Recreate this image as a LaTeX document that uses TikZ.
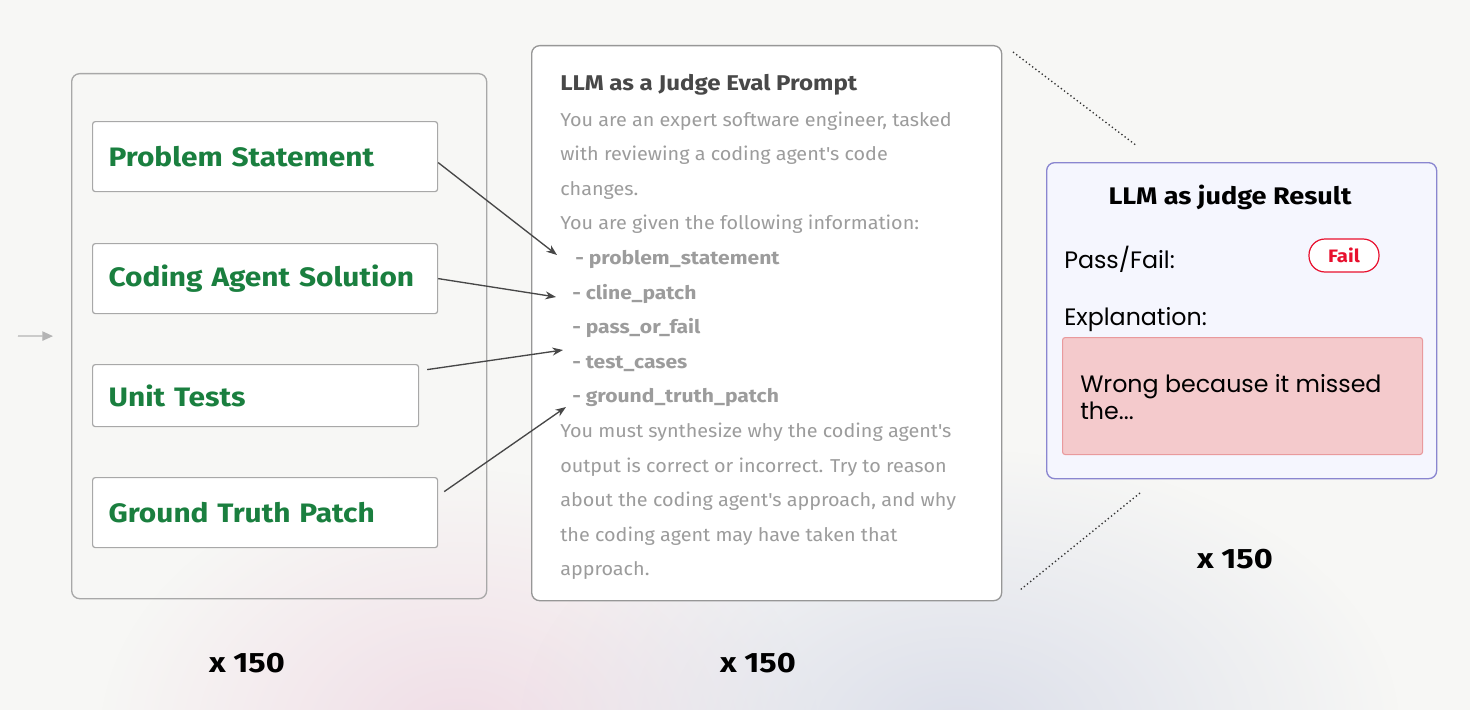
\documentclass[tikz,border=0pt]{standalone}
\usepackage{fontspec}
\setmainfont[FakeStretch=1.06]{Fira Sans}
\newfontfamily\wideface[FakeStretch=1.13]{Fira Sans}
\newfontfamily\labelface[FakeStretch=1.12]{Fira Sans}
\newfontfamily\countface[FakeStretch=1.16]{Fira Sans}
\newfontfamily\geofont{Poppins}
\usepackage{xcolor}
\definecolor{cBg}{HTML}{F7F7F5}
\definecolor{cPink}{HTML}{F0DDE6}
\definecolor{cHaze}{HTML}{DCDFEA}
\definecolor{cBorder}{HTML}{A8A8A8}
\definecolor{cGreen}{HTML}{1A7F3F}
\definecolor{cText}{HTML}{9C9C9C}
\definecolor{cTitle}{HTML}{484848}
\definecolor{cArrow}{HTML}{474747}
\definecolor{cFeed}{HTML}{B4B4B4}
\definecolor{cJudge}{HTML}{8A86D0}
\definecolor{cJudgeBg}{HTML}{F5F6FE}
\definecolor{cFail}{HTML}{E8102E}
\definecolor{cExpl}{HTML}{F4CACC}
\definecolor{cExplLine}{HTML}{E99A9D}
\usepackage{tikz}
\usetikzlibrary{positioning,arrows.meta,calc,fadings}
\tikzfading[name=glow,inner color=transparent!0,outer color=transparent!100]
\tikzset{
  box-group/.style={draw=cBorder,line width=1pt,rounded corners=6pt,
    minimum width=311.25pt,minimum height=393.75pt,anchor=north west},
  box-input/.style={draw=cBorder,fill=white,line width=0.9pt,rounded corners=2pt,
    anchor=north west,inner xsep=12pt,align=left,minimum height=52.5pt,
    text width=234.75pt,text=cGreen,font=\labelface\fontsize{20}{24}\selectfont\bfseries},
  box-prompt/.style={draw=cBorder!90!black,fill=white,line width=1pt,rounded corners=6pt,
    minimum width=352.5pt,minimum height=416.25pt,anchor=north west},
  box-judge/.style={draw=cJudge,fill=cJudgeBg,line width=1pt,rounded corners=6pt,
    minimum width=292.5pt,minimum height=237pt,anchor=north west},
  box-expl/.style={draw=cExplLine,fill=cExpl,line width=0.8pt,rounded corners=2pt,
    minimum width=270pt,minimum height=87.75pt,anchor=north west},
  pill-fail/.style={draw=cFail,fill=white,line width=0.9pt,rounded corners=12pt,
    minimum width=52.5pt,minimum height=24.75pt,text=cFail,
    font=\wideface\fontsize{13.5}{16}\selectfont\bfseries},
  prompt-title/.style={anchor=base west,inner sep=0pt,text=cTitle,
    font=\wideface\fontsize{16}{19}\selectfont\bfseries},
  prompt-line/.style={anchor=base west,inner sep=0pt,text=cText,
    font=\fontsize{14}{17}\selectfont},
  prompt-key/.style={prompt-line,font=\wideface\fontsize{14}{17}\selectfont\bfseries},
  judge-label/.style={anchor=base west,inner sep=0pt,
    font=\geofont\fontsize{17.8}{20}\selectfont},
  count-label/.style={inner sep=0pt,anchor=base,font=\countface\fontsize{21}{24}\selectfont\bfseries},
  arrow/.style={-{Stealth[length=8pt,width=6pt]},line width=1pt,draw=cArrow},
  arrow-feed/.style={-{Triangle[length=8pt,width=7pt]},line width=1pt,draw=cFeed},
  zoom-line/.style={dotted,line width=1pt,draw=black!80},
}

\begin{document}
\begin{tikzpicture}[x=0.75pt,y=-0.75pt]
  \useasboundingbox (0,0) rectangle (1470,710);
  % background with soft glow at the bottom
  \fill[cBg] (0,0) rectangle (1470,710);
  \begin{scope}
    \clip (0,0) rectangle (1470,710);
    \fill[cPink,path fading=glow] (460,740) ellipse (360 and 270);
    \fill[cHaze,path fading=glow] (960,730) ellipse (440 and 280);
  \end{scope}

  % inputs
  \node[box-group] (inputs) at (71,73) {};
  \node[box-input] (ps) at (92,121) {Problem Statement};
  \node[box-input] (cs) at (92,243) {Coding Agent Solution};
  \node[box-input,text width=220.5pt,minimum height=46.5pt] (ut) at (92,364) {Unit Tests};
  \node[box-input] (gt) at (92,477) {Ground Truth Patch};
  \coordinate (feed) at (18,336);
  \draw[arrow-feed,shorten >=13.5pt] (feed) -- (inputs.west);

  % prompt
  \node[box-prompt] (prompt) at (531,45) {};
  \node[prompt-title] (p-title) at (560,90) {LLM as a Judge Eval Prompt};
  \node[prompt-line] (p1) at (560,126) {You are an expert software engineer, tasked};
  \node[prompt-line] (p2) at (560,160.6) {with reviewing a coding agent\textquotesingle s code};
  \node[prompt-line] (p3) at (560,195.2) {changes.};
  \node[prompt-line] (p4) at (560,229.8) {You are given the following information:};
  \node[prompt-key] (b-ps) at (575,264.4) {- problem\_statement};
  \node[prompt-key] (b-cp) at (572,299) {- cline\_patch};
  \node[prompt-key] (b-pf) at (572,333.6) {- pass\_or\_fail};
  \node[prompt-key] (b-tc) at (572,368.2) {- test\_cases};
  \node[prompt-key] (b-gt) at (572,402.8) {- ground\_truth\_patch};
  \node[prompt-line] (p5) at (560,437.4) {You must synthesize why the coding agent\textquotesingle s};
  \node[prompt-line] (p6) at (560,472) {output is correct or incorrect. Try to reason};
  \node[prompt-line] (p7) at (560,506.6) {about the coding agent\textquotesingle s approach, and why};
  \node[prompt-line] (p8) at (560,541.2) {the coding agent may have taken that};
  \node[prompt-line] (p9) at (560,575.8) {approach.};

  \coordinate (t-ps) at (557,255);
  \coordinate (t-cs) at (556,297);
  \coordinate (t-ut) at (563,350);
  \coordinate (t-gt) at (566,407);
  \draw[arrow] ($(ps.east)+(0,6)$) -- (t-ps);
  \draw[arrow] (cs.east) -- (t-cs);
  \draw[arrow] ($(ut.east)+(8,-26)$) -- (t-ut);
  \draw[arrow] ($(gt.east)+(6,-21)$) -- (t-gt);

  % result
  \node[box-judge] (result) at (1046,162) {};
  \node[inner sep=0pt,anchor=base,font=\wideface\fontsize{18}{21}\selectfont\bfseries]
    (r-title) at (1230,204) {LLM as judge Result};
  \node[judge-label] (r-pass) at (1064,268.6) {Pass/Fail:};
  \node[pill-fail] (r-fail) at (1344,255.5) {Fail};
  \node[judge-label] (r-why) at (1064,325.7) {Explanation:};
  \node[box-expl] (expl) at (1062,337) {};
  \node[judge-label] (r-text1) at (1080,392) {Wrong because it missed};
  \node[judge-label] (r-text2) at (1080,419) {the...};

  \coordinate (z1a) at (1013,52);
  \coordinate (z1b) at (1137,146);
  \coordinate (z2a) at (1140,493);
  \coordinate (z2b) at (1020,590);
  \draw[zoom-line] (z1a) -- (z1b);
  \draw[zoom-line] (z2a) -- (z2b);

  % counts
  \node[count-label] (n-in) at (247,672) {x 150};
  \node[count-label] (n-pr) at (758,672) {x 150};
  \node[count-label] (n-rs) at (1235,568) {x 150};
\end{tikzpicture}
\end{document}
